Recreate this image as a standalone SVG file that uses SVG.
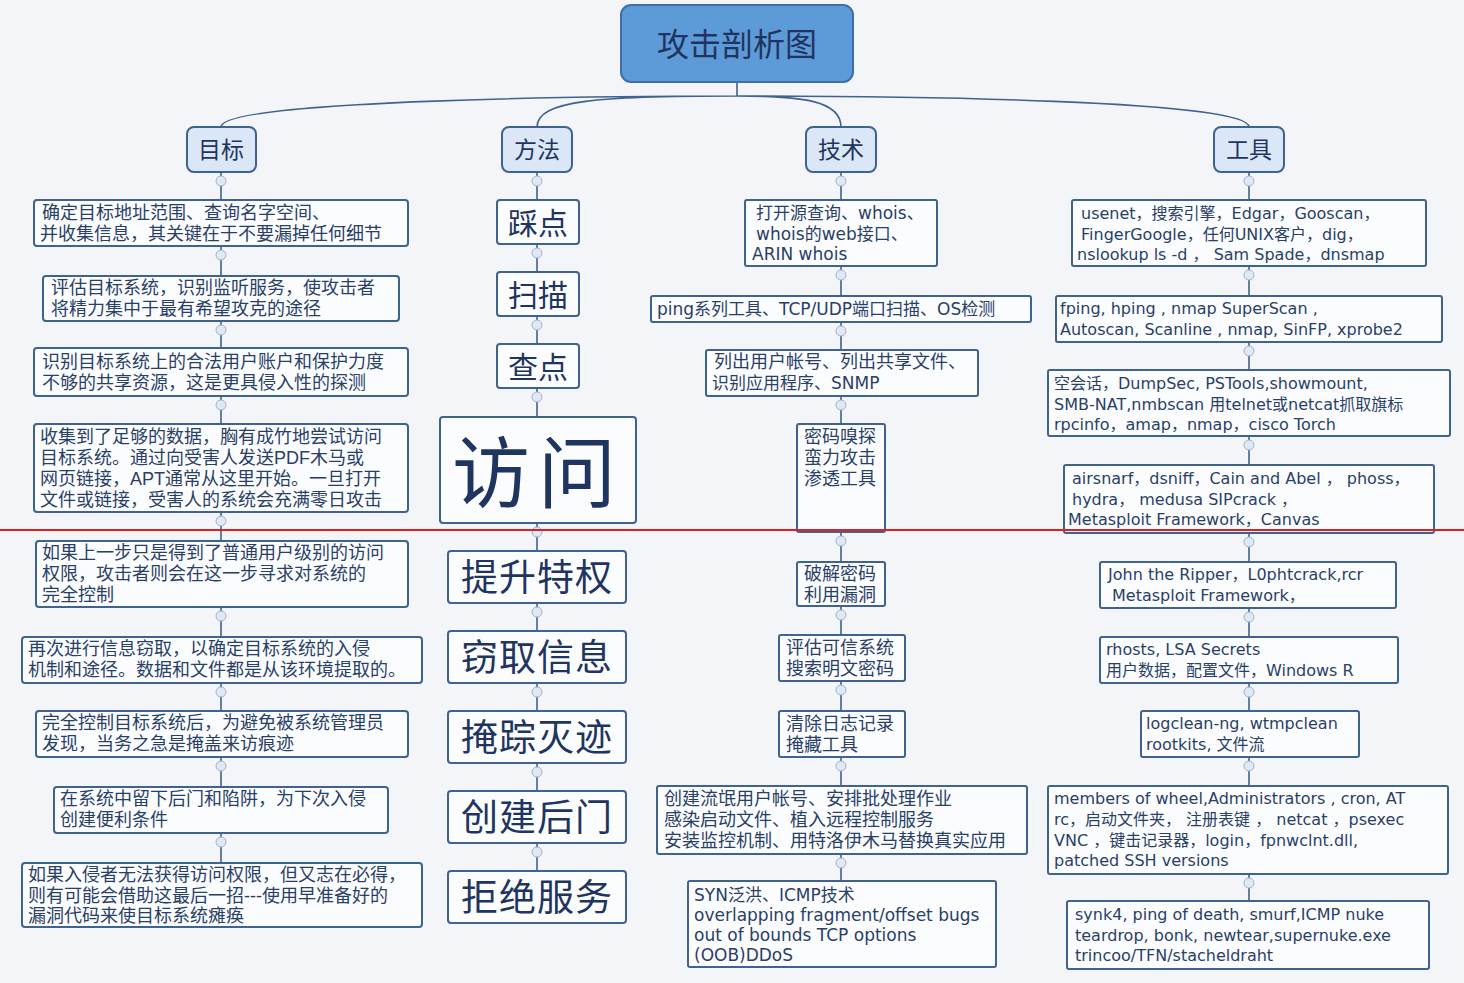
<svg xmlns="http://www.w3.org/2000/svg" width="1464" height="983" viewBox="0 0 1464 983">
<style>
.b{fill:#fbfcfe;stroke:#3f628f;stroke-width:2}
.h{fill:#dbe7f7;stroke:#3f628f;stroke-width:2}
.t{font-family:"Liberation Sans","Noto Sans CJK SC",sans-serif;font-size:18px;fill:#2a3f66}
.d{font-family:"DejaVu Sans","Noto Sans CJK SC",sans-serif;font-size:16px;fill:#2a3f66}
.e{font-family:"DejaVu Sans","Noto Sans CJK SC",sans-serif;font-size:17px;fill:#2a3f66}
.m{font-family:"Noto Sans CJK SC",sans-serif;fill:#1f3560;text-anchor:middle}
.c{fill:none;stroke:#3f628f;stroke-width:1.6}
.k{fill:#dfe8f3;stroke:#9fb4cc;stroke-width:1}
</style>
<rect width="1464" height="983" fill="#f3f5f8"/>
<g id="connectors">
<path class="c" d="M737 82V96M737 96C600 96 221 100 221 127M737 96C600 96 537 100 537 127M737 96C800 96 841 100 841 127M737 96C900 96 1249 100 1249 127"/>
<path class="c" d="M221 172V200M221 246V276M221 321V348M221 396V424M221 512V541M221 607V637M221 683V711M221 757V787M221 833V863"/>
<path class="c" d="M537 172V200M537 244V272M537 316V344M537 388V417M537 523V551M537 603V631M537 683V711M537 763V791M537 843V871"/>
<path class="c" d="M841 172V200M841 266V296M841 322V350M841 396V424M841 532V562M841 606V635M841 681V711M841 757V786M841 854V881"/>
<path class="c" d="M1249 172V200M1249 266V296M1249 342V370M1249 436V465M1249 533V562M1249 608V637M1249 683V711M1249 757V786M1249 874V901"/>
<g class="k">
<circle cx="221" cy="181" r="5"/><circle cx="221" cy="255" r="5"/><circle cx="221" cy="330" r="5"/><circle cx="221" cy="405" r="5"/><circle cx="221" cy="521" r="5"/><circle cx="221" cy="616" r="5"/><circle cx="221" cy="692" r="5"/><circle cx="221" cy="766" r="5"/><circle cx="221" cy="842" r="5"/>
<circle cx="537" cy="181" r="5"/><circle cx="537" cy="253" r="5"/><circle cx="537" cy="325" r="5"/><circle cx="537" cy="397" r="5"/><circle cx="537" cy="532" r="5"/><circle cx="537" cy="612" r="5"/><circle cx="537" cy="692" r="5"/><circle cx="537" cy="772" r="5"/><circle cx="537" cy="852" r="5"/>
<circle cx="841" cy="181" r="5"/><circle cx="841" cy="275" r="5"/><circle cx="841" cy="331" r="5"/><circle cx="841" cy="405" r="5"/><circle cx="841" cy="541" r="5"/><circle cx="841" cy="615" r="5"/><circle cx="841" cy="690" r="5"/><circle cx="841" cy="766" r="5"/><circle cx="841" cy="863" r="5"/>
<circle cx="1249" cy="181" r="5"/><circle cx="1249" cy="275" r="5"/><circle cx="1249" cy="351" r="5"/><circle cx="1249" cy="445" r="5"/><circle cx="1249" cy="542" r="5"/><circle cx="1249" cy="617" r="5"/><circle cx="1249" cy="692" r="5"/><circle cx="1249" cy="766" r="5"/><circle cx="1249" cy="883" r="5"/>
</g>
</g>
<g id="title"><rect x="621" y="5" width="232" height="77" rx="10" fill="#5d9ad8" stroke="#3f6fa8" stroke-width="2"/><text class="m" x="737" y="56" font-size="32">攻击剖析图</text></g>
<g id="h1"><rect class="h" x="187" y="127" width="69" height="45" rx="7"/><text class="m" x="221" y="158" font-size="23">目标</text></g>
<g id="h2"><rect class="h" x="502" y="127" width="70" height="45" rx="7"/><text class="m" x="537" y="158" font-size="23">方法</text></g>
<g id="h3"><rect class="h" x="806" y="127" width="70" height="45" rx="7"/><text class="m" x="841" y="158" font-size="23">技术</text></g>
<g id="h4"><rect class="h" x="1214" y="127" width="70" height="45" rx="7"/><text class="m" x="1249" y="158" font-size="23">工具</text></g>

<g id="g1"><rect class="b" x="34" y="200" width="374" height="46" rx="3"/><text class="t" x="42" y="219">确定目标地址范围、查询名字空间、</text><text class="t" x="40" y="240">并收集信息，其关键在于不要漏掉任何细节</text></g>
<g id="g2"><rect class="b" x="43" y="276" width="356" height="45" rx="3"/><text class="t" x="51" y="294">评估目标系统，识别监听服务，使攻击者</text><text class="t" x="51" y="315">将精力集中于最有希望攻克的途径</text></g>
<g id="g3"><rect class="b" x="34" y="348" width="374" height="48" rx="3"/><text class="t" x="42" y="368">识别目标系统上的合法用户账户和保护力度</text><text class="t" x="42" y="389">不够的共享资源，这是更具侵入性的探测</text></g>
<g id="g4"><rect class="b" x="34" y="424" width="374" height="88" rx="3"/><text class="t" x="40" y="443">收集到了足够的数据，胸有成竹地尝试访问</text><text class="t" x="40" y="464">目标系统。通过向受害人发送PDF木马或</text><text class="t" x="40" y="485">网页链接，APT通常从这里开始。一旦打开</text><text class="t" x="40" y="506">文件或链接，受害人的系统会充满零日攻击</text></g>
<g id="g5"><rect class="b" x="36" y="541" width="372" height="66" rx="3"/><text class="t" x="42" y="559">如果上一步只是得到了普通用户级别的访问</text><text class="t" x="42" y="580">权限，攻击者则会在这一步寻求对系统的</text><text class="t" x="42" y="601">完全控制</text></g>
<g id="g6"><rect class="b" x="22" y="637" width="400" height="46" rx="3"/><text class="t" x="28" y="655">再次进行信息窃取，以确定目标系统的入侵</text><text class="t" x="28" y="676" font-size="17.5">机制和途径。数据和文件都是从该环境提取的。</text></g>
<g id="g7"><rect class="b" x="36" y="711" width="372" height="46" rx="3"/><text class="t" x="42" y="729">完全控制目标系统后，为避免被系统管理员</text><text class="t" x="42" y="750">发现，当务之急是掩盖来访痕迹</text></g>
<g id="g8"><rect class="b" x="54" y="787" width="334" height="46" rx="3"/><text class="t" x="60" y="805">在系统中留下后门和陷阱，为下次入侵</text><text class="t" x="60" y="826">创建便利条件</text></g>
<g id="g9"><rect class="b" x="22" y="863" width="400" height="64" rx="3"/><text class="t" x="28" y="881" font-size="17.5">如果入侵者无法获得访问权限，但又志在必得，</text><text class="t" x="28" y="902">则有可能会借助这最后一招---使用早准备好的</text><text class="t" x="28" y="922">漏洞代码来使目标系统瘫痪</text></g>

<g id="m1"><rect class="b" x="497" y="200" width="82" height="44" rx="3"/><text class="m" x="538" y="234" font-size="30">踩点</text></g>
<g id="m2"><rect class="b" x="497" y="272" width="82" height="44" rx="3"/><text class="m" x="538" y="306" font-size="30">扫描</text></g>
<g id="m3"><rect class="b" x="497" y="344" width="82" height="44" rx="3"/><text class="m" x="538" y="378" font-size="30">查点</text></g>
<g id="m4"><rect class="b" x="440" y="417" width="196" height="106" rx="3"/><text class="m" x="538" y="502" font-size="78" letter-spacing="8">访问</text></g>
<g id="m5"><rect class="b" x="448" y="551" width="178" height="52" rx="3"/><text class="m" x="537" y="591" font-size="37" letter-spacing="1">提升特权</text></g>
<g id="m6"><rect class="b" x="448" y="631" width="178" height="52" rx="3"/><text class="m" x="537" y="671" font-size="37" letter-spacing="1">窃取信息</text></g>
<g id="m7"><rect class="b" x="448" y="711" width="178" height="52" rx="3"/><text class="m" x="537" y="751" font-size="37" letter-spacing="1">掩踪灭迹</text></g>
<g id="m8"><rect class="b" x="448" y="791" width="178" height="52" rx="3"/><text class="m" x="537" y="831" font-size="37" letter-spacing="1">创建后门</text></g>
<g id="m9"><rect class="b" x="448" y="871" width="178" height="52" rx="3"/><text class="m" x="537" y="911" font-size="37" letter-spacing="1">拒绝服务</text></g>

<g id="s1"><rect class="b" x="745" y="200" width="192" height="66" rx="2"/><text class="e" x="756" y="219">打开源查询、whois、</text><text class="e" x="756" y="240">whois的web接口、</text><text class="e" x="752" y="260">ARIN  whois</text></g>
<g id="s2"><rect class="b" x="651" y="296" width="380" height="26" rx="2"/><text class="e" x="657" y="315">ping系列工具、TCP/UDP端口扫描、OS检测</text></g>
<g id="s3"><rect class="b" x="706" y="350" width="272" height="46" rx="2"/><text class="t" x="714" y="368">列出用户帐号、列出共享文件、</text><text class="e" x="712" y="389">识别应用程序、SNMP</text></g>
<g id="s4"><rect class="b" x="797" y="424" width="88" height="108" rx="2"/><text class="t" x="804" y="443">密码嗅探</text><text class="t" x="804" y="464">蛮力攻击</text><text class="t" x="804" y="485">渗透工具</text></g>
<g id="s5"><rect class="b" x="797" y="562" width="88" height="44" rx="2"/><text class="t" x="804" y="580">破解密码</text><text class="t" x="804" y="601">利用漏洞</text></g>
<g id="s6"><rect class="b" x="779" y="635" width="126" height="46" rx="2"/><text class="t" x="786" y="654">评估可信系统</text><text class="t" x="786" y="675">搜索明文密码</text></g>
<g id="s7"><rect class="b" x="779" y="711" width="126" height="46" rx="2"/><text class="t" x="786" y="730">清除日志记录</text><text class="t" x="786" y="751">掩藏工具</text></g>
<g id="s8"><rect class="b" x="657" y="786" width="370" height="68" rx="2"/><text class="t" x="664" y="805">创建流氓用户帐号、安排批处理作业</text><text class="t" x="664" y="826">感染启动文件、植入远程控制服务</text><text class="t" x="664" y="847">安装监控机制、用特洛伊木马替换真实应用</text></g>
<g id="s9"><rect class="b" x="688" y="881" width="308" height="86" rx="2"/><text class="e" x="694" y="901">SYN泛洪、ICMP技术</text><text class="e" x="694" y="921">overlapping fragment/offset  bugs</text><text class="e" x="694" y="941">out of bounds TCP  options</text><text class="e" x="694" y="961">(OOB)DDoS</text></g>

<g id="u1"><rect class="b" x="1072" y="200" width="354" height="66" rx="2"/><text class="d" x="1081" y="219">usenet，搜索引擎，Edgar，Gooscan，</text><text class="d" x="1081" y="240">FingerGoogle，任何UNIX客户，dig，</text><text class="d" x="1077" y="260">nslookup ls -d ，  Sam Spade，dnsmap</text></g>
<g id="u2"><rect class="b" x="1056" y="296" width="386" height="46" rx="2"/><text class="d" x="1060" y="314">fping, hping , nmap SuperScan ,</text><text class="d" x="1060" y="335">Autoscan, Scanline , nmap, SinFP, xprobe2</text></g>
<g id="u3"><rect class="b" x="1048" y="370" width="402" height="66" rx="2"/><text class="d" x="1054" y="389">空会话，DumpSec, PSTools,showmount,</text><text class="d" x="1054" y="410">SMB-NAT,nmbscan 用telnet或netcat抓取旗标</text><text class="d" x="1054" y="430">rpcinfo，amap，nmap，cisco Torch</text></g>
<g id="u4"><rect class="b" x="1064" y="465" width="370" height="68" rx="2"/><text class="d" x="1072" y="484">airsnarf，dsniff，Cain and Abel ， phoss，</text><text class="d" x="1072" y="505">hydra， medusa  SIPcrack ，</text><text class="d" x="1068" y="525">Metasploit Framework，Canvas</text></g>
<g id="u5"><rect class="b" x="1100" y="562" width="296" height="46" rx="2"/><text class="d" x="1108" y="580">John the Ripper，L0phtcrack,rcr</text><text class="d" x="1112" y="601">Metasploit Framework，</text></g>
<g id="u6"><rect class="b" x="1100" y="637" width="298" height="46" rx="2"/><text class="d" x="1106" y="655">rhosts, LSA Secrets</text><text class="d" x="1106" y="676">用户数据，配置文件，Windows R</text></g>
<g id="u7"><rect class="b" x="1141" y="711" width="218" height="46" rx="2"/><text class="d" x="1146" y="729">logclean-ng, wtmpclean</text><text class="d" x="1146" y="750">rootkits, 文件流</text></g>
<g id="u8"><rect class="b" x="1048" y="786" width="400" height="88" rx="2"/><text class="d" x="1054" y="804">members of wheel,Administrators , cron, AT</text><text class="d" x="1054" y="825">rc，启动文件夹， 注册表键 ， netcat ，psexec</text><text class="d" x="1054" y="846">VNC ，键击记录器，login，fpnwclnt.dll,</text><text class="d" x="1054" y="866">patched SSH versions</text></g>
<g id="u9"><rect class="b" x="1067" y="901" width="362" height="68" rx="2"/><text class="d" x="1075" y="920">synk4, ping of death, smurf,ICMP nuke</text><text class="d" x="1075" y="941">teardrop, bonk, newtear,supernuke.exe</text><text class="d" x="1075" y="961">trincoo/TFN/stacheldraht</text></g>

<line x1="0" y1="530" x2="1464" y2="530" stroke="#e02020" stroke-width="2"/>
</svg>
